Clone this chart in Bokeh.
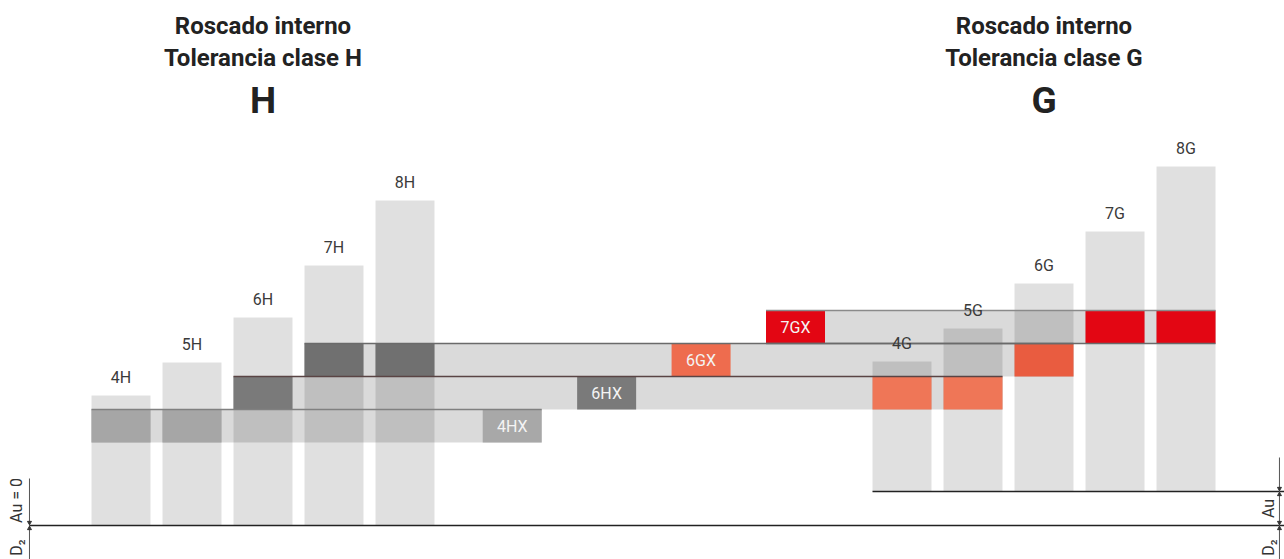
from bokeh.plotting import figure
from bokeh.models import Range1d
from bokeh.core.properties import value
from bokeh.embed import file_html
from bokeh.resources import INLINE

# ---------------- data ----------------
grades = ["4", "5", "6", "7", "8"]
zone_width = [130, 163, 208, 260, 325]      # tolerance zone width (relative units)
au_H = 0                                     # fundamental deviation H
au_G = 34                                    # fundamental deviation G
h_labels = [g + "H" for g in grades]
g_labels = [g + "G" for g in grades]
h_slots = [0, 1, 2, 3, 4]
g_slots = [11, 12, 13, 14, 15]

# X-class tolerance bands
band_names = ["4HX", "6HX", "6GX", "7GX"]
band_low = [83, 116, 149, 182]
band_high = [116, 149, 182, 215]
band_label_slot = [5.51, 6.84, 8.17, 9.5]
band_from = ["4H", "6H", "7H", "7GX"]
band_to = ["4HX", "5G", "6G", "8G"]

# highlighted cells: (band, class)
cell_band = ["4HX", "4HX", "6HX", "6HX", "6HX", "6GX", "6GX", "6GX", "7GX", "7GX"]
cell_class = ["4H", "5H", "6H", "4G", "5G", "7H", "8H", "6G", "7G", "8G"]

titles_left = ["Roscado interno", "Tolerancia clase H", "H"]
titles_right = ["Roscado interno", "Tolerancia clase G", "G"]

# ---------------- styles ----------------
BAR_W = 0.831
HALF = BAR_W / 2
FONT = value("Roboto")
cell_colors = {
    "4H": "#a6a6a6", "5H": "#a6a6a6", "6H": "#7a7a7a", "7H": "#707070", "8H": "#707070",
    "4G": "#ef7657", "5G": "#ef7657", "6G": "#e95c40", "7G": "#e30613", "8G": "#e30613",
}
label_colors = {"4HX": "#a8a8a8", "6HX": "#7a7a7a", "6GX": "#ee6c4e", "7GX": "#e30613"}
band_line_colors = ["#808080", "#5a4444", "#6a6a6a", "#8a8a8a"]

# ---------------- derived ----------------
bar_slot = h_slots + g_slots
bar_label = h_labels + g_labels
bar_bottom = [au_H] * 5 + [au_G] * 5
bar_top = [b + w for b, w in zip(bar_bottom, zone_width + zone_width)]
slot_of = dict(zip(bar_label, bar_slot))
slot_of.update(dict(zip(band_names, band_label_slot)))
band_index = {n: i for i, n in enumerate(band_names)}

p = figure(width=1284, height=559, x_range=Range1d(-1.697, 16.387),
           y_range=Range1d(-34, 525), output_backend="svg", toolbar_location=None,
           min_border=0, x_axis_location=None, y_axis_location=None)
p.grid.visible = False
p.outline_line_color = None
p.background_fill_color = "white"

# bands (translucent)
band_left = [slot_of[f] - HALF for f in band_from]
band_right = [slot_of[t] + HALF for t in band_to]
p.quad(left=band_left, right=band_right, bottom=band_low, top=band_high,
       fill_color="black", fill_alpha=0.145, line_color=None)

# tolerance bars (translucent)
p.quad(left=[s - HALF for s in bar_slot], right=[s + HALF for s in bar_slot],
       bottom=bar_bottom, top=bar_top, fill_color="black", fill_alpha=0.12, line_color=None)

# highlighted cells
cx = [slot_of[c] for c in cell_class]
cb = [band_index[b] for b in cell_band]
p.quad(left=[x - HALF for x in cx], right=[x + HALF for x in cx],
       bottom=[band_low[i] for i in cb], top=[band_high[i] for i in cb],
       fill_color=[cell_colors[c] for c in cell_class], line_color=None)

# band label boxes
p.quad(left=[s - HALF for s in band_label_slot], right=[s + HALF for s in band_label_slot],
       bottom=band_low, top=band_high,
       fill_color=[label_colors[n] for n in band_names], line_color=None)
p.text(x=band_label_slot, y=[(a + b) / 2 for a, b in zip(band_low, band_high)], text=band_names,
       text_align="center", text_baseline="middle", text_font=FONT,
       text_font_size="16px", text_color="#f4f4f4")

# band boundary lines
p.segment(x0=band_left, x1=band_right, y0=band_high, y1=band_high,
          line_color=band_line_colors, line_width=1.4)
p.segment(x0=[band_left[3]], x1=[band_right[3]], y0=[band_low[3]], y1=[band_low[3]],
          line_color="#6a6a6a", line_width=1.4)

# bar labels
p.text(x=bar_slot, y=[t + 18 for t in bar_top], text=bar_label, text_align="center",
       text_baseline="middle", text_font=FONT, text_font_size="16px", text_color="#3a3a3a")

# titles
h_center = sum(h_slots) / len(h_slots)
g_center = sum(g_slots) / len(g_slots)
for cxx, tt in ((h_center, titles_left), (g_center, titles_right)):
    p.text(x=[cxx, cxx], y=[500, 468], text=tt[:2], text_align="center",
           text_baseline="alphabetic", text_font=FONT, text_font_size="24px",
           text_font_style="bold", text_color="#222222")
    p.text(x=[cxx], y=[425], text=tt[2:], text_align="center",
           text_baseline="alphabetic", text_font=FONT, text_font_size="37px",
           text_font_style="bold", text_color="#222222")

# reference lines
x_left_dim = -1.289
x_right_dim = 16.316
p.segment(x0=[x_left_dim, g_slots[0] - HALF], x1=[16.387, 16.387], y0=[au_H, au_G], y1=[au_H, au_G],
          line_color="#222222", line_width=1.5)
p.segment(x0=[x_left_dim, x_right_dim], x1=[x_left_dim, x_right_dim], y0=[47, 68], y1=[-34, -34],
          line_color="#555555", line_width=1)
p.scatter(x=[x_left_dim, x_right_dim, x_right_dim], y=[au_H + 3, au_G + 3, au_H + 3],
          marker="inverted_triangle", size=4, color="#333333")
p.scatter(x=[x_left_dim, x_right_dim, x_right_dim], y=[au_H - 3, au_G - 3, au_H - 3],
          marker="triangle", size=4, color="#333333")

# dimension texts (rotated)
p.text(x=[-1.472, -1.472, 16.162, 16.162], y=[25, -22, au_G / 2, -22],
       text=["Au = 0", "D₂", "Au", "D₂"], angle=1.5708, text_align="center",
       text_baseline="middle", text_font=FONT, text_font_size="16px", text_color="#333333")

open("out.html", "w").write(file_html(p, INLINE))
